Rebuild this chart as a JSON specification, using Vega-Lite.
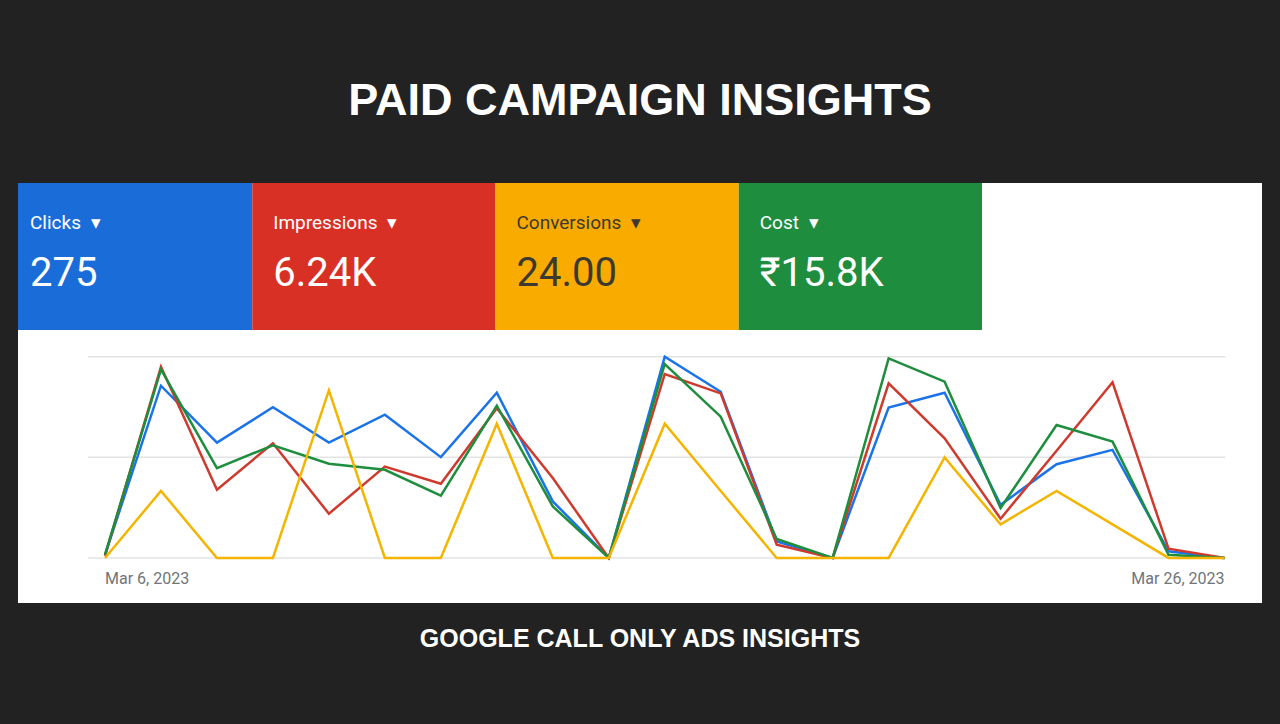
{
  "$schema": "https://vega.github.io/schema/vega-lite/v6.json",
  "background": "#222222",
  "padding": {"left": 18, "right": 18, "top": 79, "bottom": 72},
  "title": {"text": "PAID CAMPAIGN INSIGHTS", "font": "Liberation Sans", "fontSize": 45, "fontWeight": "bold", "color": "#ffffff", "anchor": "middle", "frame": "group", "offset": 59},
  "config": {"view": {"stroke": null}},
  "spacing": 0,
  "datasets": {
    "cards": [
      {"metric": "Clicks", "label": "Clicks\u2002\u25BE", "display": "275"},
      {"metric": "Impressions", "label": "Impressions\u2002\u25BE", "display": "6.24K"},
      {"metric": "Conversions", "label": "Conversions\u2002\u25BE", "display": "24.00"},
      {"metric": "Cost", "label": "Cost\u2002\u25BE", "display": "\u20B915.8K"}
    ],
    "series": [
      {"date": "2023-03-06T00:00:00", "metric": "Clicks", "index": 1.5},
      {"date": "2023-03-07T00:00:00", "metric": "Clicks", "index": 85.6},
      {"date": "2023-03-08T00:00:00", "metric": "Clicks", "index": 57.3},
      {"date": "2023-03-09T00:00:00", "metric": "Clicks", "index": 74.9},
      {"date": "2023-03-10T00:00:00", "metric": "Clicks", "index": 57.3},
      {"date": "2023-03-11T00:00:00", "metric": "Clicks", "index": 71.2},
      {"date": "2023-03-12T00:00:00", "metric": "Clicks", "index": 50.1},
      {"date": "2023-03-13T00:00:00", "metric": "Clicks", "index": 82.1},
      {"date": "2023-03-14T00:00:00", "metric": "Clicks", "index": 28.1},
      {"date": "2023-03-15T00:00:00", "metric": "Clicks", "index": 0},
      {"date": "2023-03-16T00:00:00", "metric": "Clicks", "index": 100},
      {"date": "2023-03-17T00:00:00", "metric": "Clicks", "index": 82.6},
      {"date": "2023-03-18T00:00:00", "metric": "Clicks", "index": 8.2},
      {"date": "2023-03-19T00:00:00", "metric": "Clicks", "index": 0},
      {"date": "2023-03-20T00:00:00", "metric": "Clicks", "index": 74.7},
      {"date": "2023-03-21T00:00:00", "metric": "Clicks", "index": 82.1},
      {"date": "2023-03-22T00:00:00", "metric": "Clicks", "index": 26.4},
      {"date": "2023-03-23T00:00:00", "metric": "Clicks", "index": 46.6},
      {"date": "2023-03-24T00:00:00", "metric": "Clicks", "index": 53.7},
      {"date": "2023-03-25T00:00:00", "metric": "Clicks", "index": 3.3},
      {"date": "2023-03-26T00:00:00", "metric": "Clicks", "index": 0},
      {"date": "2023-03-06T00:00:00", "metric": "Impressions", "index": 1},
      {"date": "2023-03-07T00:00:00", "metric": "Impressions", "index": 95},
      {"date": "2023-03-08T00:00:00", "metric": "Impressions", "index": 33.9},
      {"date": "2023-03-09T00:00:00", "metric": "Impressions", "index": 57},
      {"date": "2023-03-10T00:00:00", "metric": "Impressions", "index": 22},
      {"date": "2023-03-11T00:00:00", "metric": "Impressions", "index": 45.4},
      {"date": "2023-03-12T00:00:00", "metric": "Impressions", "index": 36.9},
      {"date": "2023-03-13T00:00:00", "metric": "Impressions", "index": 74.4},
      {"date": "2023-03-14T00:00:00", "metric": "Impressions", "index": 39.7},
      {"date": "2023-03-15T00:00:00", "metric": "Impressions", "index": 0},
      {"date": "2023-03-16T00:00:00", "metric": "Impressions", "index": 91.4},
      {"date": "2023-03-17T00:00:00", "metric": "Impressions", "index": 81.8},
      {"date": "2023-03-18T00:00:00", "metric": "Impressions", "index": 6.6},
      {"date": "2023-03-19T00:00:00", "metric": "Impressions", "index": 0},
      {"date": "2023-03-20T00:00:00", "metric": "Impressions", "index": 86.8},
      {"date": "2023-03-21T00:00:00", "metric": "Impressions", "index": 59.5},
      {"date": "2023-03-22T00:00:00", "metric": "Impressions", "index": 19.5},
      {"date": "2023-03-23T00:00:00", "metric": "Impressions", "index": 53.3},
      {"date": "2023-03-24T00:00:00", "metric": "Impressions", "index": 87.3},
      {"date": "2023-03-25T00:00:00", "metric": "Impressions", "index": 4.6},
      {"date": "2023-03-26T00:00:00", "metric": "Impressions", "index": 0},
      {"date": "2023-03-06T00:00:00", "metric": "Cost", "index": 1.5},
      {"date": "2023-03-07T00:00:00", "metric": "Cost", "index": 93.7},
      {"date": "2023-03-08T00:00:00", "metric": "Cost", "index": 44.6},
      {"date": "2023-03-09T00:00:00", "metric": "Cost", "index": 56},
      {"date": "2023-03-10T00:00:00", "metric": "Cost", "index": 46.8},
      {"date": "2023-03-11T00:00:00", "metric": "Cost", "index": 43.8},
      {"date": "2023-03-12T00:00:00", "metric": "Cost", "index": 31},
      {"date": "2023-03-13T00:00:00", "metric": "Cost", "index": 75.7},
      {"date": "2023-03-14T00:00:00", "metric": "Cost", "index": 25.6},
      {"date": "2023-03-15T00:00:00", "metric": "Cost", "index": 0},
      {"date": "2023-03-16T00:00:00", "metric": "Cost", "index": 96.4},
      {"date": "2023-03-17T00:00:00", "metric": "Cost", "index": 70.2},
      {"date": "2023-03-18T00:00:00", "metric": "Cost", "index": 9.4},
      {"date": "2023-03-19T00:00:00", "metric": "Cost", "index": 0},
      {"date": "2023-03-20T00:00:00", "metric": "Cost", "index": 99.2},
      {"date": "2023-03-21T00:00:00", "metric": "Cost", "index": 87.6},
      {"date": "2023-03-22T00:00:00", "metric": "Cost", "index": 24.8},
      {"date": "2023-03-23T00:00:00", "metric": "Cost", "index": 66.1},
      {"date": "2023-03-24T00:00:00", "metric": "Cost", "index": 57.8},
      {"date": "2023-03-25T00:00:00", "metric": "Cost", "index": 1.6},
      {"date": "2023-03-26T00:00:00", "metric": "Cost", "index": 0},
      {"date": "2023-03-06T00:00:00", "metric": "Conversions", "index": 0},
      {"date": "2023-03-07T00:00:00", "metric": "Conversions", "index": 33.3},
      {"date": "2023-03-08T00:00:00", "metric": "Conversions", "index": 0},
      {"date": "2023-03-09T00:00:00", "metric": "Conversions", "index": 0},
      {"date": "2023-03-10T00:00:00", "metric": "Conversions", "index": 83.3},
      {"date": "2023-03-11T00:00:00", "metric": "Conversions", "index": 0},
      {"date": "2023-03-12T00:00:00", "metric": "Conversions", "index": 0},
      {"date": "2023-03-13T00:00:00", "metric": "Conversions", "index": 66.7},
      {"date": "2023-03-14T00:00:00", "metric": "Conversions", "index": 0},
      {"date": "2023-03-15T00:00:00", "metric": "Conversions", "index": 0},
      {"date": "2023-03-16T00:00:00", "metric": "Conversions", "index": 66.7},
      {"date": "2023-03-17T00:00:00", "metric": "Conversions", "index": 33.3},
      {"date": "2023-03-18T00:00:00", "metric": "Conversions", "index": 0},
      {"date": "2023-03-19T00:00:00", "metric": "Conversions", "index": 0},
      {"date": "2023-03-20T00:00:00", "metric": "Conversions", "index": 0},
      {"date": "2023-03-21T00:00:00", "metric": "Conversions", "index": 50},
      {"date": "2023-03-22T00:00:00", "metric": "Conversions", "index": 16.7},
      {"date": "2023-03-23T00:00:00", "metric": "Conversions", "index": 33.3},
      {"date": "2023-03-24T00:00:00", "metric": "Conversions", "index": 16.7},
      {"date": "2023-03-25T00:00:00", "metric": "Conversions", "index": 0},
      {"date": "2023-03-26T00:00:00", "metric": "Conversions", "index": 0}
    ]
  },
  "vconcat": [
    {
      "width": 1244,
      "height": 147,
      "view": {"fill": "#ffffff", "stroke": null},
      "data": {"name": "cards"},
      "layer": [
        {
          "mark": {"type": "rect", "clip": true},
          "encoding": {
            "x": {"field": "metric", "type": "nominal", "sort": null, "axis": null,
                  "scale": {"domain": ["Clicks", "Impressions", "Conversions", "Cost"], "range": [-9, 964], "paddingInner": 0, "paddingOuter": 0}},
            "fill": {"field": "metric", "type": "nominal", "legend": null,
                     "scale": {"domain": ["Clicks", "Impressions", "Conversions", "Cost"], "range": ["#1a6dd9", "#d93025", "#f9ab00", "#1e8e3e"]}}
          }
        },
        {
          "mark": {"type": "text", "align": "left", "baseline": "middle", "dx": 21, "dy": -34, "font": "Roboto", "fontSize": 19},
          "encoding": {
            "x": {"field": "metric", "type": "nominal", "bandPosition": 0, "axis": null},
            "text": {"field": "label"},
            "color": {"condition": {"test": "datum.metric === 'Conversions'", "value": "#3c3a30"}, "value": "#ffffff"}
          }
        },
        {
          "mark": {"type": "text", "align": "left", "baseline": "middle", "dx": 21, "dy": 17, "font": "Roboto", "fontSize": 40},
          "encoding": {
            "x": {"field": "metric", "type": "nominal", "bandPosition": 0, "axis": null},
            "text": {"field": "display"},
            "color": {"condition": {"test": "datum.metric === 'Conversions'", "value": "#3c3a30"}, "value": "#ffffff"}
          }
        }
      ]
    },
    {
      "width": 1244,
      "height": 273,
      "view": {"fill": "#ffffff", "stroke": null},
      "title": {"text": "GOOGLE CALL ONLY ADS INSIGHTS", "orient": "bottom", "anchor": "middle", "frame": "group", "font": "Liberation Sans", "fontSize": 25, "fontWeight": "bold", "color": "#ffffff", "offset": 24},
      "layer": [
        {
          "data": {"values": [{"level": 0}, {"level": 50}, {"level": 100}]},
          "mark": {"type": "rule", "color": "#e3e3e3", "strokeWidth": 1.5},
          "encoding": {
            "y": {"field": "level", "type": "quantitative", "axis": null,
                  "scale": {"domain": [-22.4, 113.3], "nice": false, "zero": false}},
            "x": {"datum": {"year": 2023, "month": 3, "date": 5, "hours": 16, "minutes": 43}, "type": "temporal", "axis": null,
                  "scale": {"domain": [{"year": 2023, "month": 3, "date": 4, "hours": 10, "minutes": 42}, {"year": 2023, "month": 3, "date": 26, "hours": 16, "minutes": 5}]}},
            "x2": {"datum": {"year": 2023, "month": 3, "date": 26, "hours": 0, "minutes": 20}}
          }
        },
        {
          "data": {"name": "series"},
          "transform": [{"filter": "datum.metric === 'Clicks'"}],
          "mark": {"type": "line", "strokeWidth": 2.5},
          "encoding": {
            "x": {"field": "date", "type": "temporal", "axis": null},
            "y": {"field": "index", "type": "quantitative", "axis": null},
            "stroke": {"field": "metric", "type": "nominal", "legend": null,
                       "scale": {"domain": ["Clicks", "Impressions", "Conversions", "Cost"], "range": ["#1a73e8", "#cf3a2e", "#f4b400", "#1e8e3e"]}}
          }
        },
        {
          "data": {"name": "series"},
          "transform": [{"filter": "datum.metric === 'Impressions'"}],
          "mark": {"type": "line", "strokeWidth": 2.5},
          "encoding": {
            "x": {"field": "date", "type": "temporal", "axis": null},
            "y": {"field": "index", "type": "quantitative", "axis": null},
            "stroke": {"field": "metric", "type": "nominal", "legend": null}
          }
        },
        {
          "data": {"name": "series"},
          "transform": [{"filter": "datum.metric === 'Cost'"}],
          "mark": {"type": "line", "strokeWidth": 2.5},
          "encoding": {
            "x": {"field": "date", "type": "temporal", "axis": null},
            "y": {"field": "index", "type": "quantitative", "axis": null},
            "stroke": {"field": "metric", "type": "nominal", "legend": null}
          }
        },
        {
          "data": {"name": "series"},
          "transform": [{"filter": "datum.metric === 'Conversions'"}],
          "mark": {"type": "line", "strokeWidth": 2.5},
          "encoding": {
            "x": {"field": "date", "type": "temporal", "axis": null},
            "y": {"field": "index", "type": "quantitative", "axis": null},
            "stroke": {"field": "metric", "type": "nominal", "legend": null}
          }
        },
        {
          "data": {"values": [{}]},
          "mark": {"type": "text", "align": "left", "baseline": "middle", "font": "Roboto", "fontSize": 16, "color": "#70757a"},
          "encoding": {
            "x": {"datum": {"year": 2023, "month": 3, "date": 6}, "type": "temporal"},
            "y": {"datum": -10.4, "type": "quantitative"},
            "text": {"value": "Mar 6, 2023"}
          }
        },
        {
          "data": {"values": [{}]},
          "mark": {"type": "text", "align": "right", "baseline": "middle", "font": "Roboto", "fontSize": 16, "color": "#70757a"},
          "encoding": {
            "x": {"datum": {"year": 2023, "month": 3, "date": 26}, "type": "temporal"},
            "y": {"datum": -10.4, "type": "quantitative"},
            "text": {"value": "Mar 26, 2023"}
          }
        }
      ]
    }
  ]
}
